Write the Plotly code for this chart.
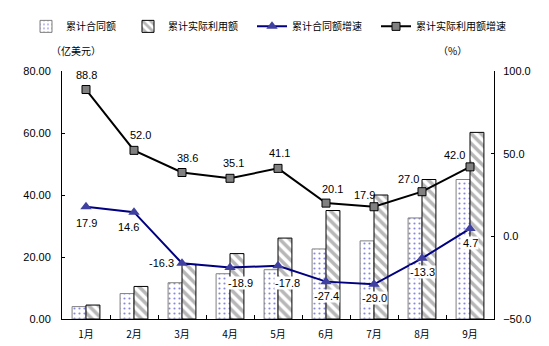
import plotly.graph_objects as go

months = ["1月", "2月", "3月", "4月", "5月", "6月", "7月", "8月", "9月"]
contract_value = [4.0, 8.2, 11.7, 14.6, 15.9, 22.6, 25.2, 32.6, 45.0]
actual_value = [4.5, 10.5, 17.6, 21.1, 26.1, 35.0, 40.0, 45.0, 60.2]
contract_growth = [17.9, 14.6, -16.3, -18.9, -17.8, -27.4, -29.0, -13.3, 4.7]
actual_growth = [88.8, 52.0, 38.6, 35.1, 41.1, 20.1, 17.9, 27.0, 42.0]

names = ["累计合同额", "累计实际利用额", "累计合同额增速", "累计实际利用额增速"]

fig = go.Figure()
fig.add_trace(go.Bar(
    x=months, y=contract_value, name=names[0], legend="legend",
    marker=dict(color="white", line=dict(color="#808080", width=1),
                pattern=dict(shape=".", fgcolor="#1010c0", bgcolor="white", size=5, solidity=0.15)),
))
fig.add_trace(go.Bar(
    x=months, y=actual_value, name=names[1], legend="legend2",
    marker=dict(color="white", line=dict(color="black", width=1),
                pattern=dict(shape="\\", fgcolor="#707070", bgcolor="white", size=7, solidity=0.5)),
))
fig.add_trace(go.Scatter(
    x=months, y=contract_growth, name=names[2], yaxis="y2", legend="legend3",
    mode="lines+markers",
    line=dict(color="#000080", width=2),
    marker=dict(symbol="triangle-up", size=10, color="#4040a0"),
))
fig.add_trace(go.Scatter(
    x=months, y=actual_growth, name=names[3], yaxis="y2", legend="legend4",
    mode="lines+markers",
    line=dict(color="black", width=2),
    marker=dict(symbol="square", size=8, color="#808080", line=dict(color="black", width=1)),
))

lab_font = dict(family="Liberation Sans, Arial", size=11, color="black")
c_shift = [(0, -16), (-6, -15), (-21, 0), (10, -15), (9, -17), (0, -14), (0, -14), (0, -14), (0, -14)]
a_shift = [(0, 15), (6, 15), (5, 15), (3, 15), (1, 15), (6, 14), (-10, 12), (-14, 13), (-16, 12)]
anns = []
for i, m in enumerate(months):
    anns.append(dict(x=m, y=contract_growth[i], xref="x", yref="y2", text=f"{contract_growth[i]:.1f}",
                     showarrow=False, xshift=c_shift[i][0], yshift=c_shift[i][1], font=lab_font,
                     bgcolor="white" if i >= 3 else None, borderpad=0))
    anns.append(dict(x=m, y=actual_growth[i], xref="x", yref="y2", text=f"{actual_growth[i]:.1f}",
                     showarrow=False, xshift=a_shift[i][0], yshift=a_shift[i][1], font=lab_font, borderpad=0))

cjk = dict(family="Noto Sans CJK SC", size=10, color="black")
anns.append(dict(x=(76 - 62) / 432, y=(319 - 48) / 250, xref="paper", yref="paper", text="（亿美元）",
                 showarrow=False, font=cjk, xanchor="center", yanchor="middle"))
anns.append(dict(x=(452 - 62) / 432, y=(319 - 48) / 250, xref="paper", yref="paper", text="（%）",
                 showarrow=False, font=cjk, xanchor="center", yanchor="middle"))

def leg(px):
    return dict(x=(px - 62) / 432, y=(319 - 24) / 250, xanchor="left", yanchor="middle",
                orientation="h", font=cjk, bgcolor="rgba(0,0,0,0)", itemwidth=30)

fig.update_layout(
    width=549, height=346,
    margin=dict(l=62, r=55, t=69, b=27),
    paper_bgcolor="white", plot_bgcolor="white",
    barmode="group", bargap=0.42, bargroupgap=0,
    showlegend=True,
    legend=leg(26), legend2=leg(128), legend3=leg(252), legend4=leg(376),
    annotations=anns,
    xaxis=dict(type="category", range=[-0.5, 8.5], showline=True, linecolor="black", linewidth=1,
               ticks="inside", tickson="boundaries", ticklen=4, tickcolor="black",
               tickfont=cjk, showgrid=False, zeroline=False, ticklabelstandoff=6, automargin=False),
    yaxis=dict(range=[0, 80], dtick=20, tickformat=".2f", showline=True, linecolor="black", linewidth=1,
               ticks="inside", ticklen=3, tickcolor="black", showgrid=False, zeroline=False, automargin=False,
               tickfont=dict(family="Liberation Sans, Arial", size=11, color="black"), ticklabelstandoff=8),
    yaxis2=dict(range=[-50, 100], dtick=50, tickformat=".1f", overlaying="y", side="right",
                showline=True, linecolor="black", linewidth=1, automargin=False,
                ticks="inside", ticklen=3, tickcolor="black", showgrid=False, zeroline=False,
                tickfont=dict(family="Liberation Sans, Arial", size=11, color="black"), ticklabelstandoff=6),
)

fig.write_html("out.html")
